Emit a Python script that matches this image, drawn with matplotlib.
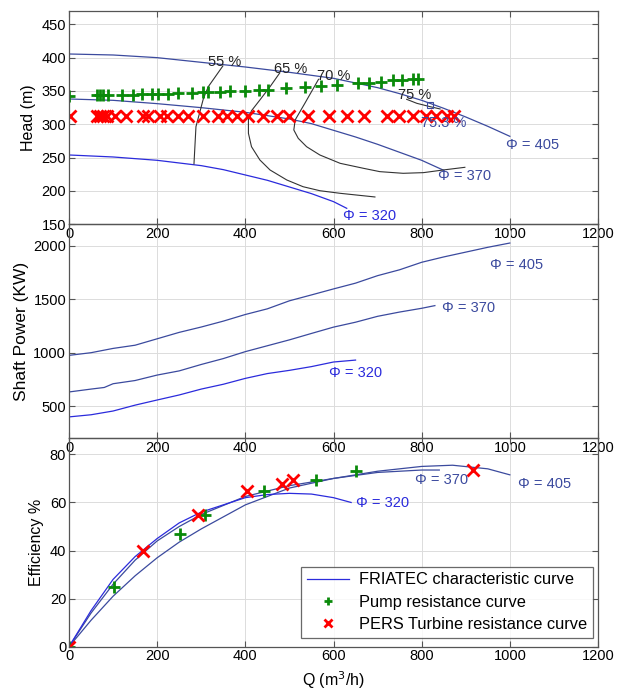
import matplotlib
matplotlib.use('Agg')
import matplotlib.pyplot as plt
import numpy as np

plt.rcParams['font.family'] = ['Liberation Sans', 'DejaVu Sans']
plt.rcParams['font.size'] = 10.5

# ---- head curves (Q in m3/h, H in m) ----
q405_h = [0, 100, 200, 300, 400, 500, 600, 700, 750, 800, 850, 900, 950, 1000]
h405 = [405.5, 404, 400, 393, 386, 378, 369, 355, 346, 336, 324, 311, 297, 282]
q370_h = [0, 100, 200, 300, 400, 500, 550, 600, 650, 700, 750, 800, 850]
h370 = [338, 336, 331, 325, 318, 308, 301, 291, 281, 270, 258, 246, 231]
q320_h = [0, 100, 200, 300, 350, 400, 450, 500, 550, 600, 630]
h320 = [254, 251, 246, 238, 232, 224, 216, 206, 196, 184, 174]

# iso-efficiency lines
q55 = [349, 316, 305, 288, 283.5]
h55 = [387.5, 356.5, 339, 296.5, 240.6]
q65 = [478, 456, 433, 414, 407, 407, 414, 433, 456, 494, 531, 569, 615, 694]
h65 = [377, 356.4, 336.5, 320.4, 309, 286.5, 266.4, 246.5, 231.5, 216.5, 206.4, 200.4, 196.5, 191]
q70 = [566, 535, 513, 510, 520, 539, 569, 615, 668, 705, 758, 804, 849, 898]
h70 = [367.5, 331.5, 306.5, 291.5, 279, 266.4, 254, 241.5, 234, 229, 226.5, 227.5, 231.5, 235.5]
q75 = [766, 789, 819, 842]
h75 = [337.5, 331.5, 326.5, 323]
q_best, h_best = 819, 329

# pump resistance curve (green +)
q_pump = [0, 63, 70, 78, 89, 120, 146, 165, 188, 203, 225, 248, 278, 305, 316,
          342, 365, 399, 430, 452, 492, 535, 571, 609, 656, 681, 708, 736, 755, 781, 792]
h_pump = [343, 343.5, 343.5, 343.5, 343.5, 344, 344.5, 345, 345, 345.5, 346, 346.5, 347.5, 348, 348.5,
          349, 349.5, 350.5, 351.5, 352, 354, 355.5, 357.5, 358.5, 361.5, 362.5, 364, 366, 366.5, 368, 368.5]
# PERS turbine resistance curve (red x)
q_turb = [1.5, 63, 70, 78, 86, 104, 129, 168, 180, 206, 222, 248, 271, 305, 339, 358, 381,
          405, 441, 471, 500, 543, 590, 630, 670, 722, 749, 781, 810, 832, 857, 873]
h_turb = [312] * len(q_turb)

# ---- shaft power (kW) ----
q405_p = [0, 50, 100, 150, 200, 250, 300, 350, 400, 450, 500, 550, 600, 650, 700, 750, 800, 850, 900, 950, 1000]
p405 = [975, 1000, 1040, 1070, 1130, 1190, 1240, 1295, 1357, 1410, 1485, 1540, 1596, 1650, 1720, 1775, 1845, 1895, 1940, 1985, 2025]
q370_p = [0, 50, 80, 100, 150, 200, 250, 300, 350, 400, 450, 500, 550, 600, 650, 700, 750, 800, 830]
p370 = [633, 660, 675, 710, 740, 791, 830, 890, 945, 1010, 1065, 1120, 1180, 1239, 1285, 1340, 1380, 1415, 1440]
q320_p = [0, 50, 100, 150, 200, 250, 300, 350, 400, 450, 500, 550, 600, 650]
p320 = [400, 420, 455, 510, 558, 605, 660, 705, 760, 805, 835, 870, 913, 931]

# ---- efficiency (%) ----
q405_e = [0, 50, 100, 150, 200, 250, 300, 400, 500, 600, 700, 800, 870, 950, 1000]
e405 = [0, 11, 21, 29.5, 37, 43.5, 49, 59, 66, 70, 73, 75, 75.5, 74, 71.5]
q370_e = [0, 50, 100, 150, 200, 250, 300, 400, 500, 600, 700, 800, 840]
e370 = [0, 14, 26, 36, 44, 50, 55, 62.5, 67, 70, 72.5, 73.5, 73.5]
q320_e = [0, 50, 100, 150, 200, 250, 300, 400, 450, 500, 550, 600, 640]
e320 = [0, 15, 28, 37.5, 45, 51.5, 56, 62, 63.3, 63.8, 63.5, 62, 60]

q_pump_e = [0, 102, 252, 308, 443, 560, 651]
e_pump = [0, 24.8, 46.7, 54.7, 64.6, 69.5, 73.2]
q_turb_e = [0, 167, 293, 404, 484, 509, 916]
e_turb = [0, 39.7, 54.7, 64.6, 67.7, 69.5, 73.6]

c_dark = '#3b4a9e'
c_blue = '#2b2bdc'
c_iso = '#333333'
c_green = '#0a8a0a'
c_red = '#ff0000'

fig = plt.figure(figsize=(6.19, 6.95), dpi=100)
W, H = 619, 695
left, right = 69, 598
def box(top, bot):
    return [left / W, 1 - bot / H, (right - left) / W, (bot - top) / H]

ax1 = fig.add_axes(box(11, 224.3))
ax2 = fig.add_axes(box(224.3, 438.3))
ax3 = fig.add_axes(box(438.3, 646.7))
ax2.patch.set_alpha(0)
ax3.patch.set_alpha(0)

for ax in (ax1, ax2, ax3):
    ax.set_xlim(0, 1200)
    ax.set_xticks(range(0, 1201, 200))
    ax.grid(True, color='#dcdcdc', lw=0.7)
    ax.set_axisbelow(True)
    ax.tick_params(direction='in', top=True, right=True, length=4, width=0.8,
                   color='#555555', pad=2)
    for s in ax.spines.values():
        s.set_color('#555555')
        s.set_linewidth(0.9)

mk = dict(ls='none', ms=8, mew=2)

# top: head
ax1.plot(q405_h, h405, color=c_dark, lw=0.9)
ax1.plot(q370_h, h370, color=c_dark, lw=0.9)
ax1.plot(q320_h, h320, color=c_blue, lw=0.9)
for qq, hh in ((q55, h55), (q65, h65), (q70, h70), (q75, h75)):
    ax1.plot(qq, hh, color=c_iso, lw=0.8)
ax1.plot(q_best, h_best, 's', ms=5, mfc='none', mec=c_dark, mew=0.8)
ax1.plot(q_pump, h_pump, '+', color=c_green, **mk)
ax1.plot(q_turb, h_turb, 'x', color=c_red, **mk)
ax1.text(316, 388, '55 %', fontsize=10.5, color='#222222')
ax1.text(465, 377, '65 %', fontsize=10.5, color='#222222')
ax1.text(563, 367, '70 %', fontsize=10.5, color='#222222')
ax1.text(746, 338, '75 %', fontsize=10.5, color='#222222')
ax1.text(798, 296, '75.3 %', fontsize=10.5, color=c_dark)
ax1.text(992, 263, 'Φ = 405', fontsize=10.5, color=c_dark)
ax1.text(838, 216, 'Φ = 370', fontsize=10.5, color=c_dark)
ax1.text(622, 157, 'Φ = 320', fontsize=10.5, color=c_blue)
ax1.set_ylim(150, 470)
ax1.set_yticks(range(150, 451, 50))
ax1.set_ylabel('Head (m)', fontsize=11.5, labelpad=4)

# middle: shaft power
ax2.plot(q405_p, p405, color=c_dark, lw=0.9)
ax2.plot(q370_p, p370, color=c_dark, lw=0.9)
ax2.plot(q320_p, p320, color=c_blue, lw=0.9)
ax2.text(955, 1780, 'Φ = 405', fontsize=10.5, color=c_dark)
ax2.text(845, 1380, 'Φ = 370', fontsize=10.5, color=c_dark)
ax2.text(590, 770, 'Φ = 320', fontsize=10.5, color=c_blue)
ax2.set_ylim(200, 2200)
ax2.set_yticks([500, 1000, 1500, 2000])
ax2.set_ylabel('Shaft Power (KW)', fontsize=12.5, labelpad=3)

# bottom: efficiency
ax3.plot(q405_e, e405, color=c_dark, lw=0.9)
ax3.plot(q370_e, e370, color=c_dark, lw=0.9)
ax3.plot(q320_e, e320, color=c_blue, lw=0.9,
         label='FRIATEC characteristic curve')
ax3.plot(q_pump_e, e_pump, '+', color=c_green, label='Pump resistance curve', **mk)
ax3.plot(q_turb_e, e_turb, 'x', color=c_red, label='PERS Turbine resistance curve', **mk)
ax3.text(1018, 66, 'Φ = 405', fontsize=10.5, color=c_dark)
ax3.text(785, 67.5, 'Φ = 370', fontsize=10.5, color=c_dark)
ax3.text(651, 58, 'Φ = 320', fontsize=10.5, color=c_blue)
ax3.set_ylim(0, 86.7)
ax3.set_yticks(range(0, 81, 20))
ax3.set_ylabel('Efficiency %', fontsize=11.5, labelpad=4)
ax3.set_xlabel('Q (m$^3$/h)', fontsize=11.5, labelpad=4)

h, l = ax3.get_legend_handles_labels()
leg = ax3.legend(h, l, loc='lower right', bbox_to_anchor=(0.9905, 0.043),
                 fontsize=11.8, frameon=True, fancybox=False, borderaxespad=0,
                 handlelength=2.6, handletextpad=0.6, labelspacing=0.45,
                 borderpad=0.35, markerscale=0.75)
leg.get_frame().set_edgecolor('#444444')
leg.get_frame().set_linewidth(0.9)

fig.savefig('out.png', dpi=100)
